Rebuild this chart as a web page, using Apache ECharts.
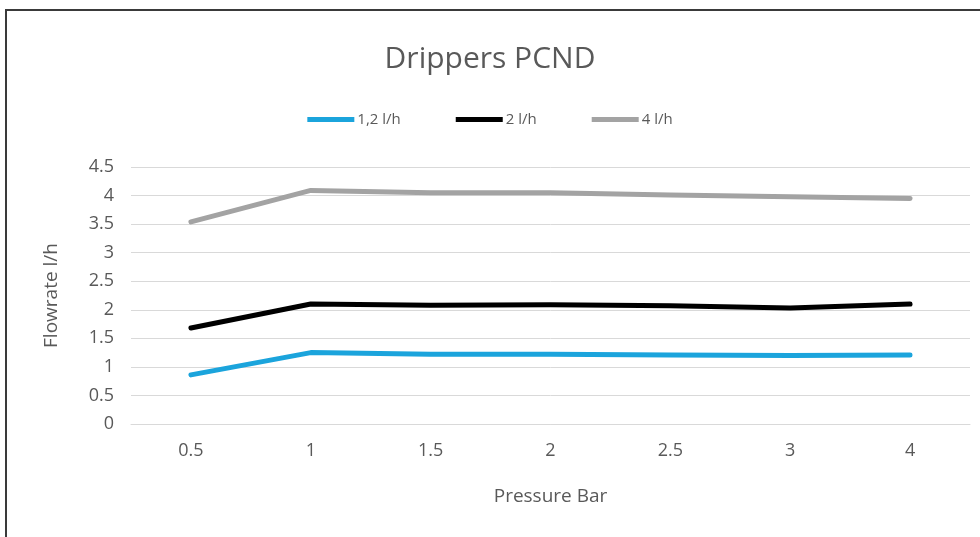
<!DOCTYPE html>
<html>
<head>
<meta charset="utf-8">
<script src="https://cdn.jsdelivr.net/npm/echarts@6/dist/echarts.min.js"></script>
<style>
html,body{margin:0;padding:0;background:#fff;}
#c{width:980px;height:537px;}
</style>
</head>
<body>
<div id="c"></div>
<script>
const categories = ['0.5', '1', '1.5', '2', '2.5', '3', '4'];
const seriesNames = ['1,2 l/h', '2 l/h', '4 l/h'];
const flow12 = [0.86, 1.25, 1.22, 1.22, 1.21, 1.20, 1.21];
const flow2 = [1.68, 2.10, 2.08, 2.09, 2.07, 2.03, 2.10];
const flow4 = [3.54, 4.09, 4.05, 4.05, 4.01, 3.98, 3.95];
const colors = ['#1ba4dc', '#000000', '#a3a3a3'];

const font = '"Open Sans", "Noto Sans", sans-serif';
const chart = echarts.init(document.getElementById('c'));
const mk = (name, data, color) => ({
  name, type: 'line', data,
  symbol: 'none', smooth: false,
  lineStyle: { color, width: 5, cap: 'round', join: 'round' },
  itemStyle: { color }
});
chart.setOption({
  animation: false,
  backgroundColor: '#ffffff',
  graphic: [{
    type: 'rect', silent: true,
    shape: { x: 6, y: 10, width: 1100, height: 700 },
    style: { fill: 'none', stroke: '#3a3a3a', lineWidth: 2 }
  }],
  title: {
    text: 'Drippers PCND', left: 'center', top: 39,
    textStyle: { fontFamily: font, fontSize: 30, fontWeight: 'normal', color: '#595959' }
  },
  legend: {
    top: 107, left: 'center',
    itemWidth: 47, itemHeight: 5, itemGap: 55,
    icon: 'rect',
    textStyle: { fontFamily: font, fontSize: 15, color: '#595959', padding: [0, 0, 0, -2] },
    data: seriesNames
  },
  grid: { left: 131, right: 10, top: 167, bottom: 113, containLabel: false },
  xAxis: {
    type: 'category', data: categories, boundaryGap: true,
    name: 'Pressure Bar', nameLocation: 'middle', nameGap: 63,
    nameTextStyle: { fontFamily: font, fontSize: 19, color: '#595959' },
    axisLine: { show: true, lineStyle: { color: '#d9d9d9', width: 1 } },
    axisTick: { show: false },
    axisLabel: { fontFamily: font, fontSize: 18, color: '#595959', margin: 18 }
  },
  yAxis: {
    type: 'value', min: 0, max: 4.5, interval: 0.5,
    name: 'Flowrate l/h', nameLocation: 'middle', nameGap: 70, nameRotate: 90,
    nameTextStyle: { fontFamily: font, fontSize: 19, color: '#595959' },
    axisLine: { show: false }, axisTick: { show: false },
    axisLabel: { fontFamily: font, fontSize: 18, color: '#595959', margin: 17 },
    splitLine: { lineStyle: { color: '#d9d9d9', width: 1 } }
  },
  series: [
    mk(seriesNames[0], flow12, colors[0]),
    mk(seriesNames[1], flow2, colors[1]),
    mk(seriesNames[2], flow4, colors[2])
  ]
});
</script>
</body>
</html>
